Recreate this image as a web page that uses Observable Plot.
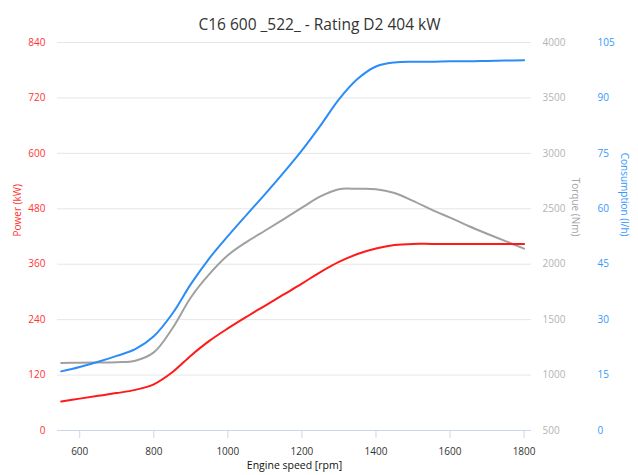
<!DOCTYPE html>
<html>
<head>
<meta charset="utf-8">
<script src="https://cdn.jsdelivr.net/npm/d3@7"></script>
<script src="https://cdn.jsdelivr.net/npm/@observablehq/plot@0.6"></script>
<style>
  html, body { margin: 0; padding: 0; background: #fff; }
  #chart svg { display: block; }
</style>
</head>
<body>
<div id="chart"></div>
<script>
const title = "C16 600 _522_ - Rating D2 404 kW";
const rpm = [550, 600, 650, 700, 750, 800, 850, 900, 950, 1000, 1050, 1100, 1150, 1200, 1250, 1300, 1350, 1400, 1450, 1500, 1550, 1600, 1650, 1700, 1750, 1800];
const power = [63, 69, 75, 81, 88, 100, 126, 162, 194, 221, 246, 270, 294, 318, 343, 365, 382, 394, 401.5, 404, 404, 404, 404, 404, 404, 404];
const torque = [1110, 1112, 1113, 1116, 1130, 1205, 1420, 1700, 1910, 2080, 2200, 2302, 2405, 2510, 2612, 2677, 2680, 2677, 2642, 2572, 2492, 2420, 2345, 2275, 2208, 2140];
const consumption = [16.0, 17.2, 18.6, 20.2, 22.0, 25.5, 31.6, 39.6, 46.6, 52.6, 58.3, 63.9, 69.7, 75.8, 82.5, 89.6, 95.1, 98.5, 99.6, 99.8, 99.8, 99.9, 99.9, 100.0, 100.1, 100.2];
const xTicks = [600, 800, 1000, 1200, 1400, 1600, 1800];
const powerTicks = [0, 120, 240, 360, 480, 600, 720, 840];
const torqueTicks = [500, 1000, 1500, 2000, 2500, 3000, 3500, 4000];
const consTicks = [0, 15, 30, 45, 60, 75, 90, 105];

const PMAX = 840, TMIN = 500, TMAX = 4000, CMAX = 105;
const tq2p = t => (t - TMIN) / (TMAX - TMIN) * PMAX;
const c2p = c => c / CMAX * PMAX;

const rows = rpm.map((r, i) => ({rpm: r, power: power[i], torque: torque[i], cons: consumption[i]}));

const font = "'Open Sans', 'Liberation Sans', sans-serif";
const RED = "#ff1a1a", GRAY = "#a0a0a0", BLUE = "#2b8cf8";
const curve = "catmull-rom";

const chart = Plot.plot({
  width: 638,
  height: 475,
  marginLeft: 57,
  marginRight: 107,
  marginTop: 42,
  marginBottom: 45,
  style: {fontFamily: font, fontSize: "10px", background: "#fff"},
  x: {domain: [540, 1820]},
  y: {domain: [0, PMAX]},
  marks: [
    Plot.gridY(powerTicks, {stroke: "#e6e6e6", strokeOpacity: 1}),
    Plot.ruleY([0], {stroke: "#ccd6eb"}),
    Plot.axisX(xTicks, {tickSize: 8, stroke: "#ccd6eb", strokeOpacity: 1, tickPadding: 9, fill: "#333", fontSize: 10, tickFormat: d => String(d), label: null}),
    Plot.axisY(powerTicks, {anchor: "left", tickSize: 0, tickPadding: 12, fill: "#ff3333", fontSize: 10, label: null}),
    Plot.text(torqueTicks, {y: tq2p, text: d => String(d), frameAnchor: "right", dx: 11, textAnchor: "start", fill: "#b3b3b3", fontSize: 10}),
    Plot.text(consTicks, {y: c2p, text: d => String(d), frameAnchor: "right", dx: 66, textAnchor: "start", fill: "#3399ff", fontSize: 10}),
    Plot.text(["Power (kW)"], {frameAnchor: "left", dx: -40, rotate: -90, fill: "#ff3333", fontSize: 10}),
    Plot.text(["Torque (Nm)"], {frameAnchor: "right", dx: 44, rotate: 90, fill: "#a6a6a6", fontSize: 10}),
    Plot.text(["Consumption (l/h)"], {frameAnchor: "right", dx: 93, rotate: 90, fill: "#3399ff", fontSize: 10}),
    Plot.text(["Engine speed [rpm]"], {frameAnchor: "bottom", dy: 38, fill: "#111", fontSize: 10.5}),
    Plot.text([title], {frameAnchor: "top", dx: 25, dy: -24, fill: "#333", fontSize: 15.5}),
    Plot.line(rows, {x: "rpm", y: d => tq2p(d.torque), stroke: GRAY, strokeWidth: 2, curve}),
    Plot.line(rows, {x: "rpm", y: d => c2p(d.cons), stroke: BLUE, strokeWidth: 2, curve}),
    Plot.line(rows, {x: "rpm", y: "power", stroke: RED, strokeWidth: 2, curve})
  ]
});
document.getElementById("chart").appendChild(chart);
</script>
</body>
</html>
